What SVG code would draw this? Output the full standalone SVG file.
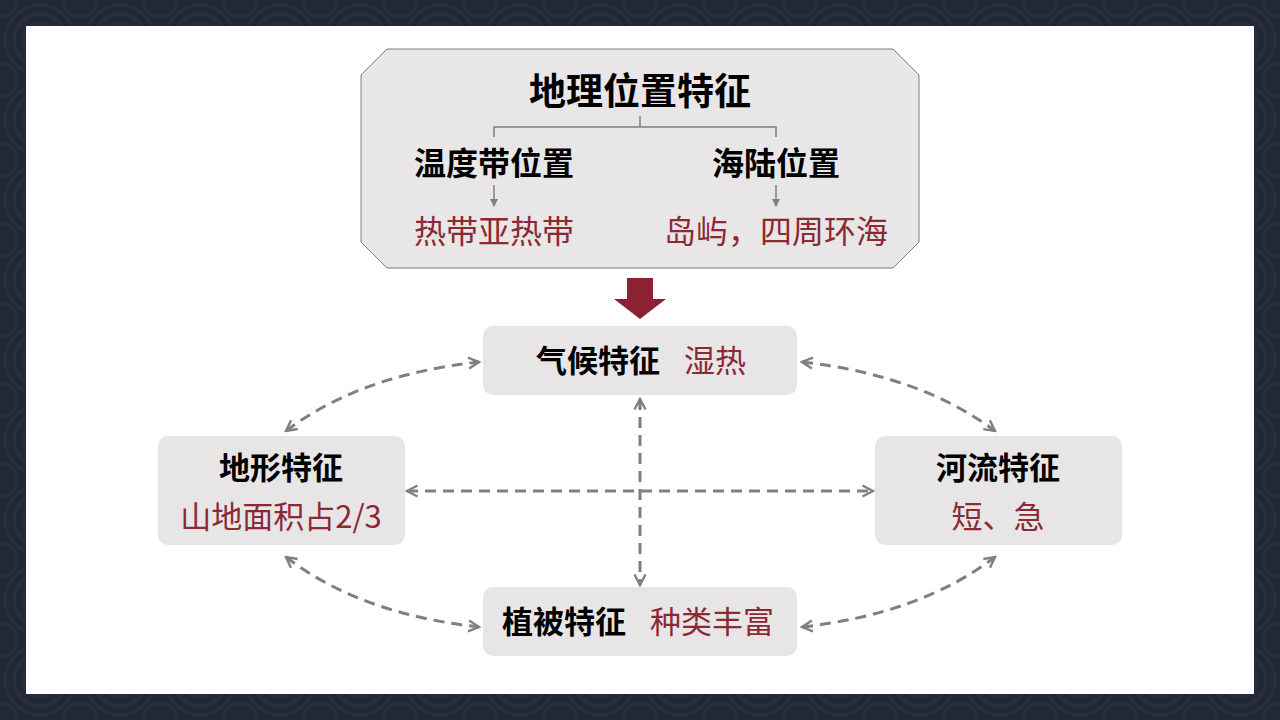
<svg xmlns="http://www.w3.org/2000/svg" width="1280" height="720" viewBox="0 0 1280 720">
  <defs>
    <pattern id="swirl" width="80" height="80" patternUnits="userSpaceOnUse">
      <rect width="80" height="80" fill="#222935"/>
      <g fill="none" stroke="#29303d" stroke-width="3">
        <circle cx="40" cy="40" r="8"/>
        <circle cx="40" cy="40" r="17"/>
        <circle cx="40" cy="40" r="26"/>
        <circle cx="40" cy="40" r="35"/>
        <circle cx="0" cy="0" r="17"/>
        <circle cx="80" cy="0" r="17"/>
        <circle cx="0" cy="80" r="17"/>
        <circle cx="80" cy="80" r="17"/>
      </g>
    </pattern>
    <marker id="open" viewBox="0 0 14 14" refX="12" refY="7" markerWidth="14" markerHeight="14" markerUnits="userSpaceOnUse" orient="auto-start-reverse">
      <path d="M1.5,1.5 L12,7 L1.5,12.5" fill="none" stroke="#808080" stroke-width="2.4"/>
    </marker>
    <marker id="small" viewBox="0 0 8 8" refX="7" refY="4" markerWidth="8" markerHeight="8" markerUnits="userSpaceOnUse" orient="auto">
      <path d="M0,0 L8,4 L0,8 Z" fill="#808080"/>
    </marker>
  </defs>
  <style>
    .b { font-family: "Noto Sans CJK SC", "Noto Sans", sans-serif; font-weight: bold; fill: #000; text-anchor: middle; dominant-baseline: central; }
    .r { font-family: "Noto Sans CJK SC", "Noto Sans", sans-serif; font-weight: normal; fill: #8b2935; text-anchor: middle; dominant-baseline: central; }
    .box { fill: #e7e5e5; }
    .dash { fill: none; stroke: #808080; stroke-width: 3; stroke-dasharray: 11 7; marker-start: url(#open); marker-end: url(#open); }
    .thin { fill: none; stroke: #808080; stroke-width: 1.5; }
  </style>

  <rect width="1280" height="720" fill="url(#swirl)"/>
  <rect x="26" y="26" width="1228" height="668" fill="#ffffff"/>

  <g id="geo-location">
    <polygon points="387,49 893,49 919,75 919,242 893,268 387,268 361,242 361,75" fill="#e8e6e6" stroke="#7f7f7f" stroke-width="1"/>
    <text class="b" x="640" y="89" font-size="37">地理位置特征</text>
    <path class="thin" d="M640,116 V127 M494,137 V127 H776 V137"/>
    <text class="b" x="494" y="161" font-size="32">温度带位置</text>
    <text class="b" x="776" y="161" font-size="32">海陆位置</text>
    <line class="thin" x1="494" y1="185" x2="494" y2="206" marker-end="url(#small)"/>
    <line class="thin" x1="776" y1="185" x2="776" y2="206" marker-end="url(#small)"/>
    <text class="r" x="494" y="229" font-size="32">热带亚热带</text>
    <text class="r" x="776" y="229" font-size="32">岛屿，四周环海</text>
  </g>

  <g id="down-arrow">
    <polygon points="627,278 653,278 653,299 666,299 640,319 614,299 627,299" fill="#8b2231"/>
  </g>

  <g id="connectors">
    <line class="dash" x1="640" y1="399" x2="640" y2="585"/>
    <line class="dash" x1="407" y1="491" x2="873" y2="491"/>
    <path class="dash" d="M286,431 Q360,375 479,362"/>
    <path class="dash" d="M802,362 Q920,375 995,431"/>
    <path class="dash" d="M286,557 Q360,614 479,627"/>
    <path class="dash" d="M802,627 Q920,614 995,557"/>
  </g>

  <g id="climate">
    <rect class="box" x="483" y="326" width="314" height="69" rx="10"/>
    <text class="b" x="598" y="358" font-size="31">气候特征</text>
    <text class="r" x="715" y="358" font-size="31">湿热</text>
  </g>

  <g id="terrain">
    <rect class="box" x="158" y="436" width="247" height="109" rx="10"/>
    <text class="b" x="281" y="465" font-size="31">地形特征</text>
    <text class="r" x="281" y="514" font-size="31">山地面积占2/3</text>
  </g>

  <g id="river">
    <rect class="box" x="875" y="436" width="247" height="109" rx="10"/>
    <text class="b" x="998" y="465" font-size="31">河流特征</text>
    <text class="r" x="998" y="514" font-size="31">短、急</text>
  </g>

  <g id="vegetation">
    <rect class="box" x="483" y="587" width="314" height="69" rx="10"/>
    <text class="b" x="564" y="619" font-size="31">植被特征</text>
    <text class="r" x="712" y="619" font-size="31">种类丰富</text>
  </g>
</svg>
